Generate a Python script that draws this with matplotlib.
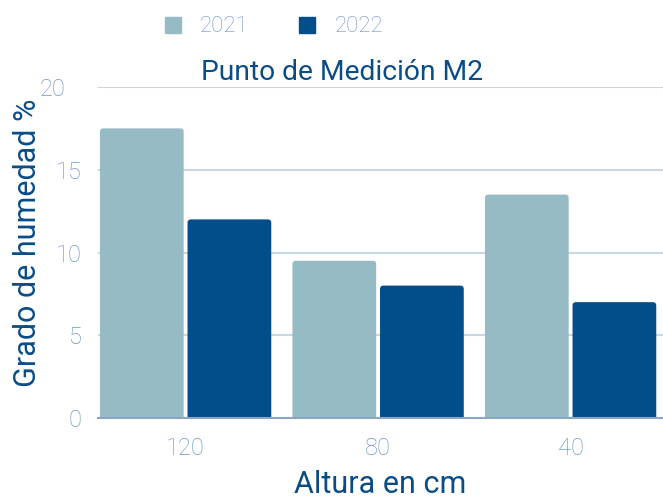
import matplotlib
matplotlib.use('Agg')
import matplotlib.pyplot as plt
from matplotlib.patches import FancyBboxPatch, Patch
from matplotlib.transforms import ScaledTranslation
import numpy as np

# Data
categories = ['120', '80', '40']
years = ['2021', '2022']
values_2021 = [17.5, 9.5, 13.5]
values_2022 = [12.0, 8.0, 7.0]
yticks = [0, 5, 10, 15, 20]

color_2021 = '#96bbc4'
color_2022 = '#024e8a'
text_dark = '#0a4c86'
tick_color = '#6f95c6'
grid_color = '#c9d7e5'

plt.rcParams['font.family'] = ['Roboto', 'DejaVu Sans']

fig = plt.figure(figsize=(6.63, 4.99), dpi=100)
ax = fig.add_axes([98 / 663, 81 / 499, 1 - 98 / 663, 331 / 499])

x = np.arange(len(categories))
width = 0.435
offset = 0.2275

bars1 = ax.bar(x - offset, values_2021, width, color=color_2021)
bars2 = ax.bar(x + offset, values_2022, width, color=color_2022)

# swap plain bars for ones with rounded tops
xlim = (-0.455, 2.48)
ylim = (0, 20)
ax_w_px = 663 - 98
ax_h_px = 331
aspect = ((ylim[1] - ylim[0]) / ax_h_px) / ((xlim[1] - xlim[0]) / ax_w_px)
for bar in list(bars1) + list(bars2):
    bx, bw, bh = bar.get_x(), bar.get_width(), bar.get_height()
    fc = bar.get_facecolor()
    bar.remove()
    rounded = FancyBboxPatch((bx, -1), bw, bh + 1,
                             boxstyle='round,pad=0,rounding_size=0.018',
                             mutation_aspect=aspect, fc=fc, ec='none', zorder=2)
    ax.add_patch(rounded)

ax.set_xlim(*xlim)
ax.set_ylim(*ylim)
ax.set_yticks(yticks)
ax.set_xticks(x)
ax.set_xticklabels(categories)

ax.grid(axis='y', color=grid_color, linewidth=1.5, zorder=0)
ax.set_axisbelow(True)
for side in ['top', 'right', 'left']:
    ax.spines[side].set_visible(False)
ax.spines['bottom'].set_color('#8aa6c4')
ax.spines['bottom'].set_linewidth(1.5)
ax.spines['bottom'].set_zorder(3)

ax.tick_params(axis='both', length=0, colors=tick_color, labelsize=17)
ax.tick_params(axis='y', pad=12)
ax.tick_params(axis='x', pad=14)
for lbl in ax.get_xticklabels() + ax.get_yticklabels():
    lbl.set_fontweight('light')
# the top label sits further left in the original
top = ax.get_yticklabels()[-1]
top.set_transform(top.get_transform() + ScaledTranslation(-16 / 100, 0, fig.dpi_scale_trans))

ax.set_ylabel('Grado de humedad %', fontsize=22, color=text_dark)
ax.yaxis.set_label_coords(-(98 - 42) / 565, 0.53)
ax.set_xlabel('Altura en cm', fontsize=22, color=text_dark, labelpad=7)
fig.text(0.516, 1 - 72 / 499, 'Punto de Medición M2', fontsize=20.3,
         color=text_dark, ha='center', va='center')

handles = [Patch(color=color_2021), Patch(color=color_2022)]
leg = fig.legend(handles, years, loc='center', bbox_to_anchor=(0.413, 1 - 27 / 499),
                 ncol=2, frameon=False, fontsize=16, handlelength=0.72,
                 handleheight=0.72, columnspacing=2.3, handletextpad=0.85)
for t in leg.get_texts():
    t.set_color(tick_color)
    t.set_fontweight('light')

fig.savefig('out.png', dpi=100)
